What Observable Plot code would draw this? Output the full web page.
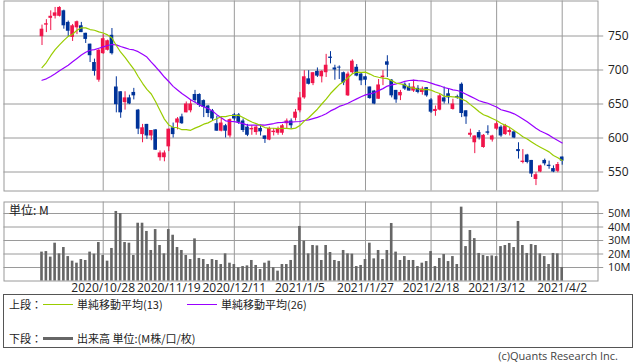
<!DOCTYPE html>
<html>
<head>
<meta charset="utf-8">
<script src="https://cdn.jsdelivr.net/npm/d3@7"></script>
<script src="https://cdn.jsdelivr.net/npm/@observablehq/plot@0.6"></script>
<style>
  body { margin: 0; background: #fff; }
  #wrap { position: relative; width: 638px; height: 362px; overflow: hidden; background: #fff;
          font-family: "Noto Sans CJK JP", "Noto Sans", sans-serif; color: #222; }
  #price, #vol { position: absolute; left: 0; }
  #price { top: 0; }
  #vol { top: 191px; }
  .box { position: absolute; left: 3px; top: 294px; width: 630px; height: 54px; border: 1px solid #555; box-sizing: border-box; }
  .t { position: absolute; transform: translateY(-50%); font-size: 11px; line-height: 1.3; white-space: nowrap; }
  .ln { position: absolute; }
  .copy { position: absolute; right: 20px; top: 356px; transform: translateY(-50%); font-family: "Open Sans", sans-serif; font-size: 11px; line-height: 1.3; color: #444; white-space: nowrap; }
</style>
</head>
<body>
<div id="wrap">
  <div id="price"></div>
  <div id="vol"></div>
  <div class="box"></div>
  <div class="t" style="left:9px;top:304px">上段：</div>
  <div class="ln" style="left:43px;top:303.5px;width:30px;height:1px;background:#99cc00"></div>
  <div class="t" style="left:77px;top:304px">単純移動平均(13)</div>
  <div class="ln" style="left:187px;top:303.5px;width:30px;height:1px;background:#9900ff"></div>
  <div class="t" style="left:221px;top:304px">単純移動平均(26)</div>
  <div class="t" style="left:9px;top:338px">下段：</div>
  <div class="ln" style="left:43px;top:337px;width:30px;height:3px;background:#666"></div>
  <div class="t" style="left:77px;top:338px">出来高 単位:(M株/口/枚)</div>
  <div class="copy">(c)Quants Research Inc.</div>
</div>
<script>
// ---- data ----
const opens  = [749,766,776,779,779,787,770,748,762,765,754,738,711,685,724,729,751,675,668,652,
                659,667,641,605,620,603,612,571,571,587,615,622,631,637,640,664,664,655,647,640,
                621,610,618,603,634,634,625,616,612,608,614,603,597,608,607,607,621,625,629,640,
                659,687,680,698,690,696,719,703,704,696,662,696,704,694,690,675,669,657,689,712,
                685,670,662,679,675,669,673,667,674,656,639,641,659,665,642,661,679,640,604,593,
                608,586,609,597,613,616,605,608,609,583,564,575,567,539,550,567,560,555,551,572];
const highs  = [766,774,787,792,793,788,772,767,772,770,754,738,716,730,752,744,761,690,668,668,
                663,673,642,620,620,611,612,581,581,613,622,630,635,653,656,670,665,656,648,642,
                632,630,620,628,636,636,628,620,618,618,619,603,616,614,616,620,628,628,642,667,
                699,699,696,703,699,723,727,707,706,697,697,715,708,695,691,675,670,686,699,721,
                686,670,670,681,680,685,677,675,674,658,647,664,675,672,657,663,681,640,613,603,
                611,605,618,604,624,618,620,614,610,593,583,576,567,549,560,569,566,559,564,572];
const lows   = [736,755,758,775,778,760,748,742,752,755,739,711,691,682,723,728,722,637,629,641,
                649,656,605,593,598,596,582,566,565,580,600,612,620,637,637,652,645,630,630,625,
                610,609,600,600,625,620,608,602,604,604,603,592,596,603,604,604,613,613,625,637,
                657,678,677,689,681,689,709,685,686,677,661,694,690,677,677,657,649,657,677,689,
                659,651,655,670,669,667,665,663,660,636,632,640,650,650,641,657,630,620,601,577,
                597,585,604,594,611,601,604,603,599,569,562,562,542,530,549,559,554,549,549,560];
const closes = [760,768,779,784,792,765,757,765,771,755,745,721,698,729,746,743,724,649,637,659,
                650,662,613,615,603,611,582,578,578,613,605,628,621,650,650,655,648,645,636,628,
                610,622,610,627,628,623,611,604,614,616,609,598,614,610,614,618,625,618,638,659,
                690,679,696,691,698,707,717,700,703,681,694,713,691,684,685,658,650,678,691,707,
                662,656,667,672,669,675,667,672,662,638,642,662,653,659,650,659,636,631,607,603,
                600,604,607,603,621,603,618,611,600,580,566,564,547,546,559,562,558,550,561,566];
const volumes = [21.4,21.8,17.7,28.0,20.1,24.8,18.1,14.7,13.2,15.9,15.2,21.4,19.9,28.5,18.9,14.7,24.1,51.5,50.0,28.5,
                 28.0,18.9,42.8,42.8,36.7,22.6,38.1,26.3,20.1,38.1,33.9,24.8,22.6,18.9,15.9,31.2,16.7,15.9,12.2,15.9,
                 15.2,12.2,20.1,13.2,12.2,9.8,10.7,11.2,15.2,11.5,8.5,13.2,14.7,9.8,7.3,12.2,12.2,15.2,26.3,40.4,
                 29.5,20.1,26.3,26.0,15.2,26.3,21.1,15.2,14.4,22.6,20.1,19.9,10.7,11.5,15.9,28.0,16.4,22.6,15.9,22.6,
                 42.6,21.4,15.2,18.1,15.2,15.2,10.7,13.2,14.4,21.8,10.7,16.7,19.6,14.4,18.1,12.2,54.7,25.5,37.4,31.4,
                 20.4,18.9,18.1,18.6,18.1,25.5,26.3,27.8,24.8,44.1,26.3,20.4,27.0,26.3,20.1,18.1,12.2,20.4,20.1,10.0];
const ma13Head = [703.5,711,721,730,737,743.5,749.5,752.5,758.5,762,762,759.5];
const ma26Head = [685,687,690.5,694.5,699,703,707,712,717,722,726,729,730,732,734,736,737.5,737,734.5,732.5,730.5,729.5,727,723,719];
const priceTicks = [550,600,650,700,750];
const volTicks = [10,20,30,40,50];
const dateTickIdx = [14,29,44,59,74,89,104,119];
const dateLabels = ["2020/10/28","2020/11/19","2020/12/11","2021/1/5","2021/1/27","2021/2/18","2021/3/12","2021/4/2"];

// ---- build ----
const up = "#f0144a", down = "#003399";
const bars = closes.map((c, i) => {
  const o = opens[i];
  let b0 = Math.min(o, c), b1 = Math.max(o, c);
  if (b1 - b0 < 1.3) { const m = (b0 + b1) / 2; b0 = m - 0.65; b1 = m + 0.65; }
  return {i, o, h: highs[i], l: lows[i], c, v: volumes[i], b0, b1, col: c >= o ? up : down};
});
function sma(k, head) {
  return closes.map((c, i) => ({i, v: i < k - 1 ? head[i] : d3.mean(closes.slice(i - k + 1, i + 1))}));
}
const ma13 = sma(13, ma13Head);
const ma26 = sma(26, ma26Head);

const xScale = {type: "linear", domain: [14, 119], range: [102.7, 561.7], axis: null};
const xLeft = -8.7, xTickEnd = 128.5;
const style = {fontFamily: "'Open Sans', sans-serif", fontSize: "12px", background: "transparent", color: "#222", overflow: "visible"};
const grid = "#9a9a9a";

const price = Plot.plot({
  width: 638, height: 191,
  marginLeft: 3.5, marginRight: 40.5, marginTop: 0.5, marginBottom: 0.5,
  x: xScale,
  y: {type: "linear", domain: [550, 750], range: [171.5, 35.5]},
  style,
  marks: [
    Plot.ruleY(priceTicks, {y: d => d, x1: xLeft, x2: xTickEnd, stroke: grid}),
    Plot.ruleX(dateTickIdx, {x: d => d, stroke: grid}),
    Plot.frame({stroke: grid}),
    Plot.ruleX(bars, {x: "i", y1: "l", y2: "h", stroke: "col"}),
    Plot.rect(bars, {x1: d => d.i - 0.42, x2: d => d.i + 0.42, y1: "b0", y2: "b1", fill: "col"}),
    Plot.line(ma26, {x: "i", y: "v", stroke: "#9900ff", strokeWidth: 1.2}),
    Plot.line(ma13, {x: "i", y: "v", stroke: "#99cc00", strokeWidth: 1.2}),
    Plot.axisY(priceTicks, {anchor: "right", tickSize: 0, tickPadding: 10, label: null})
  ]
});
document.getElementById("price").appendChild(price);

const vol = Plot.plot({
  width: 638, height: 109,
  marginLeft: 3.5, marginRight: 40.5, marginTop: 10.5, marginBottom: 19.5,
  x: xScale,
  y: {type: "linear", domain: [0, 50], range: [89.5, 22]},
  style,
  marks: [
    Plot.ruleY(volTicks, {y: d => d, x1: xLeft, x2: xTickEnd, stroke: grid}),
    Plot.ruleX(dateTickIdx, {x: d => d, stroke: grid}),
    Plot.frame({stroke: grid}),
    Plot.rect(bars, {x1: d => d.i - 0.3, x2: d => d.i + 0.3, y1: 0, y2: "v", fill: "#666"}),
    Plot.text(["単位: M"], {text: d => d, frameAnchor: "top-left", dx: 5, dy: 9, lineAnchor: "middle", textAnchor: "start",
      fontFamily: "'Noto Sans CJK JP', sans-serif", fontSize: 12, fill: "#222"}),
    Plot.axisY(volTicks, {anchor: "right", tickSize: 0, tickPadding: 10, fontSize: 11, tickFormat: d => d + "M", label: null}),
    Plot.axisX(dateTickIdx, {anchor: "bottom", tickSize: 0, tickPadding: 2, tickFormat: d => dateLabels[dateTickIdx.indexOf(d)], label: null})
  ]
});
document.getElementById("vol").appendChild(vol);
</script>
</body>
</html>
